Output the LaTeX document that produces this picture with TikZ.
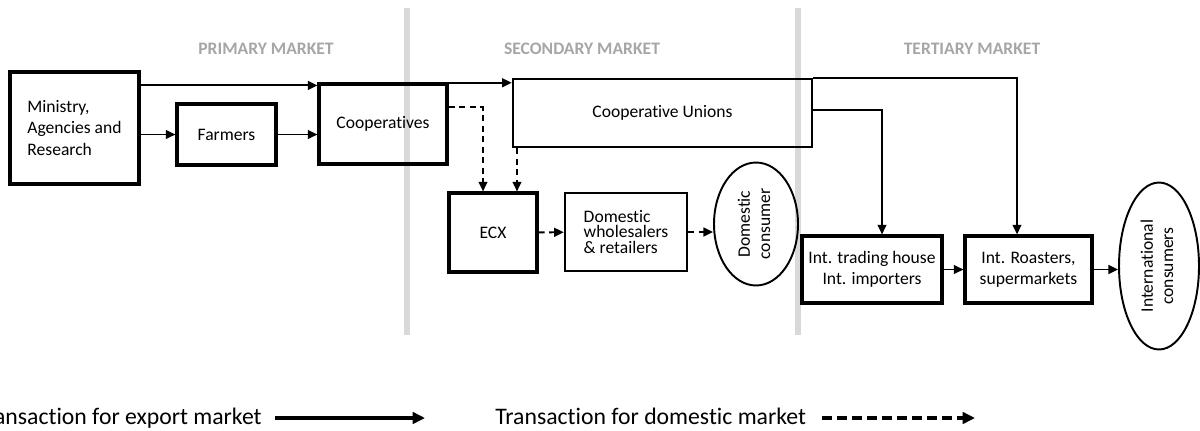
\documentclass[tikz,border=0pt]{standalone}
\usepackage{fontspec}
\setmainfont{Carlito}[Ligatures=NoCommon]
\usepackage{tikz}
\usetikzlibrary{arrows.meta}
\usetikzlibrary{shapes.geometric}
\newcommand{\uptext}[1]{\rotatebox{90}{\begin{tabular}{@{}c@{}}#1\end{tabular}}}

\begin{document}
\begin{tikzpicture}[x=0.02cm, y=-0.02cm,
    box/.style={rectangle, draw, line width=1.8pt, inner sep=0pt, align=center, font=\fontsize{10}{12}\selectfont},
    oval/.style={ellipse, draw, line width=1.1pt, inner sep=0pt, font=\fontsize{10}{11.5}\selectfont},
    exportline/.style={-{Triangle[length=5.5pt,width=5pt]}, line width=1.1pt},
    domline/.style={exportline, dash pattern=on 3.5pt off 2.5pt},
    legexp/.style={-{Triangle[length=7pt,width=6.5pt]}, line width=2pt},
    legdom/.style={legexp, dash pattern=on 5.5pt off 3pt},
    market/.style={font=\bfseries\fontsize{10}{12}\selectfont, text=black!35},
    legend/.style={inner sep=0pt, font=\fontsize{13.5}{16}\selectfont},
    divider/.style={draw=black!15, line width=3.4pt}]
    \useasboundingbox (0,0) rectangle (1200,430);
    %
    \draw[divider] (407,8) -- (407,335);
    \draw[divider] (798,8) -- (798,335);
    %
    \node[market] (hprim) at (266,49) {PRIMARY MARKET};
    \node[market] (hsec) at (582,49) {SECONDARY MARKET};
    \node[market] (hter) at (972,49) {TERTIARY MARKET};
    %
    \node[box, align=left, minimum width=2.58cm, minimum height=2.24cm] (mini) at (74.5,128) {Ministry,\\Agencies and\\Research};
    \node[box, minimum width=1.98cm, minimum height=1.22cm] (farm) at (226.5,134.5) {Farmers};
    \node[box, minimum width=2.56cm, minimum height=1.6cm] (coop) at (383,124) {Cooperatives};
    \node[box, line width=1.4pt, minimum width=5.98cm, minimum height=1.36cm] (union) at (662.5,113) {Cooperative Unions};
    %
    \node[box, minimum width=1.76cm, minimum height=1.58cm] (ecx) at (493,232.5) {ECX};
    \node[box, line width=1.4pt, align=left, font=\fontsize{10}{9}\selectfont, minimum width=2.44cm, minimum height=1.56cm] (dws) at (626,232) {Domestic\\wholesalers\\\& retailers};
    \node[oval, minimum width=1.68cm, minimum height=2.46cm] (dcons) at (756,224) {\uptext{Domestic\\consumer}};
    %
    \node[box, minimum width=2.8cm, minimum height=1.34cm] (itrade) at (872,269.5) {Int. trading house\\Int. importers};
    \node[box, minimum width=2.54cm, minimum height=1.34cm] (iroast) at (1028.5,269.5) {Int. Roasters,\\supermarkets};
    \node[oval, minimum width=1.6cm, minimum height=3.34cm] (icons) at (1159,266) {\uptext{International\\consumers}};
    %
    \coordinate (m2c) at ([yshift=-0.3cm]mini.north east);
    \coordinate (c2u) at ([yshift=-0.1cm]union.north west);
    \coordinate (c2e) at ([yshift=-0.5cm]coop.north east);
    \coordinate (u2e) at ([xshift=0.48cm]ecx.north);
    \coordinate (u2t) at ([yshift=0.06cm]union.east);
    %
    \draw[exportline] (m2c) -- (m2c -| coop.west);
    \draw[exportline] (mini.east |- farm.west) -- (farm.west);
    \draw[exportline] (farm.east) -- (farm.east -| coop.west);
    \draw[exportline] (c2u -| coop.east) -- (c2u);
    %
    \draw[domline] (c2e) -| ([xshift=-0.2cm]ecx.north);
    \draw[domline] (u2e |- union.south) -- (u2e);
    \draw[domline] (ecx) -- (dws);
    \draw[domline] (dws.east) -- (dws.east -| dcons.west);
    %
    \draw[exportline] (union.north east) -| ([xshift=-0.23cm]iroast.north);
    \draw[exportline] (u2t) -| ([xshift=0.2cm]itrade.north);
    \draw[exportline] (itrade) -- (iroast);
    \draw[exportline] (iroast.east) -- (iroast.east -| icons.west);
    %
    \node[legend, anchor=base east] (lexp) at (262,424) {Transaction for export market};
    \node[legend, anchor=base west] (ldom) at (495,424) {Transaction for domestic market};
    \coordinate (lexpend) at (425,418);
    \coordinate (ldomend) at (975,418);
    \draw[legexp] ([xshift=0.26cm]lexp.east |- lexpend) -- (lexpend);
    \draw[legdom] ([xshift=0.32cm]ldom.east |- ldomend) -- (ldomend);
\end{tikzpicture}
\end{document}
